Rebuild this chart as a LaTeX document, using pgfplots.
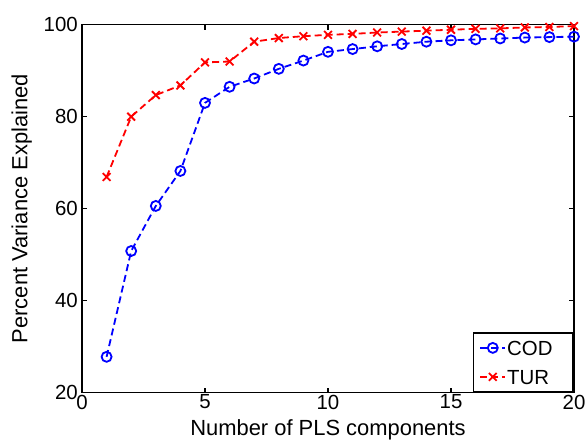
\documentclass[border=0pt]{standalone}
\usepackage{fontspec}
\setmainfont{Liberation Sans}
\usepackage{pgfplots}
\pgfplotsset{compat=1.18}

\definecolor{mblue}{RGB}{0,0,255}
\definecolor{mred}{RGB}{255,0,0}

\begin{document}
\begin{tikzpicture}
\begin{axis}[
  scale only axis,
  width=492bp, height=368bp,
  xmin=0, xmax=20, ymin=20, ymax=100,
  xtick={0,5,10,15,20},
  ytick={20,40,60,80,100},
  tick align=inside,
  major tick length=5bp,
  axis line style={line width=1.6bp},
  tick style={line width=1.2bp, black},
  font=\fontsize{20.5}{24}\selectfont,
  /pgf/number format/assume math mode=true,
  xticklabel style={inner sep=0pt, anchor=north, yshift=-2bp},
  yticklabel style={inner sep=0pt, anchor=east, xshift=-4bp},
  xlabel={Number of PLS components},
  ylabel={Percent Variance Explained},
  xlabel style={at={(axis description cs:0.5,0)}, anchor=north, inner sep=0pt,
    yshift=-27bp, font=\fontsize{22}{26}\selectfont},
  ylabel style={at={(axis description cs:0,0.5)}, anchor=south, inner sep=0pt,
    yshift=50bp, font=\fontsize{22}{26}\selectfont},
  legend style={at={(rel axis cs:1,0)}, anchor=south east, draw=black,
    line width=1.6bp, inner xsep=6bp, inner ysep=7.5bp, row sep=14bp,
    column sep=1bp,
    nodes={inner sep=0pt, text height=15bp, text depth=0bp}},
  legend cell align=left,
  legend image code/.code={%
    \draw[mark repeat=2, mark phase=2] plot coordinates {(0bp,0bp) (12.5bp,0bp) (25bp,0bp)};},
]
\addplot[mblue, line width=1.8bp, dash pattern=on 7bp off 4bp,
  mark=o, mark size=5bp, mark options={solid, line width=1.8bp}] coordinates {
  (1,27.8) (2,50.8) (3,60.6) (4,68.2) (5,83.0) (6,86.5) (7,88.3) (8,90.4)
  (9,92.2) (10,94.1) (11,94.7) (12,95.3) (13,95.8) (14,96.3) (15,96.6)
  (16,96.8) (17,97.0) (18,97.2) (19,97.3) (20,97.4)
};
\addlegendentry{\makebox[60bp][l]{COD}}
\addplot[mred, line width=1.8bp, dash pattern=on 7bp off 4bp,
  mark=x, mark size=5.5bp, mark options={solid, line width=1.8bp}] coordinates {
  (1,66.9) (2,80.0) (3,84.7) (4,86.8) (5,91.8) (6,92.0) (7,96.3) (8,97.1)
  (9,97.5) (10,97.8) (11,98.0) (12,98.3) (13,98.5) (14,98.7) (15,98.9)
  (16,99.1) (17,99.2) (18,99.4) (19,99.5) (20,99.7)
};
\addlegendentry{TUR}
\path (rel axis cs:0,0) coordinate (sw);
\path (rel axis cs:1,1) coordinate (ne);
\end{axis}
\pgfresetboundingbox
\path[use as bounding box] ([shift={(-82bp,-47bp)}]sw) rectangle ([shift={(13bp,24.7bp)}]ne);
\end{tikzpicture}
\end{document}
